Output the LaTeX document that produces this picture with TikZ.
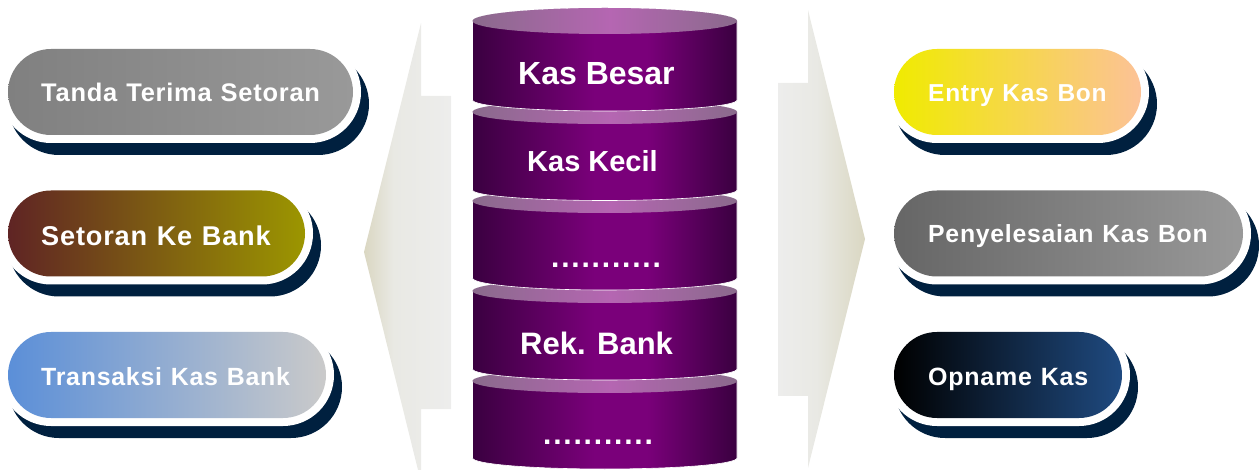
\documentclass[tikz,border=0pt]{standalone}
\usepackage{fontspec}
\setmainfont{Liberation Sans}
\newfontfamily\spaced[LetterSpace=3,WordSpace=1.15]{Liberation Sans}
\newfontfamily\dotted[LetterSpace=6]{Liberation Sans}
\definecolor{sideE}{HTML}{3A0040}
\definecolor{sideP}{HTML}{7A007A}
\definecolor{topE}{HTML}{8A6A8C}
\definecolor{topP}{HTML}{B566B2}
\definecolor{arA}{HTML}{DAD7C2}
\definecolor{arB}{HTML}{E9E9E4}
\definecolor{arC}{HTML}{EDEDEC}
\definecolor{navy}{HTML}{00203F}
\definecolor{grayA}{HTML}{808080}
\definecolor{grayB}{HTML}{999999}
\definecolor{brownA}{HTML}{5F2424}
\definecolor{oliveB}{HTML}{9C9600}
\definecolor{blueA}{HTML}{5B8FD8}
\definecolor{silverB}{HTML}{CACACA}
\definecolor{yellowA}{HTML}{F0EB00}
\definecolor{peachB}{HTML}{FCC297}
\definecolor{darkA}{HTML}{666666}
\definecolor{blackA}{HTML}{000000}
\definecolor{blueB}{HTML}{1F4A80}
\pgfdeclarehorizontalshading{cylside}{100bp}{color(0bp)=(sideE); color(25bp)=(sideE); color(48bp)=(sideP); color(58bp)=(sideP); color(75bp)=(sideE); color(100bp)=(sideE)}
\pgfdeclarehorizontalshading{cyltop}{100bp}{color(0bp)=(topE); color(25bp)=(topE); color(51bp)=(topP); color(75bp)=(topE); color(100bp)=(topE)}
\pgfdeclarehorizontalshading{arrowL}{100bp}{color(0bp)=(arA); color(25bp)=(arA); color(42bp)=(arB); color(75bp)=(arC); color(100bp)=(arC)}
\pgfdeclarehorizontalshading{arrowR}{100bp}{color(0bp)=(arC); color(25bp)=(arC); color(47bp)=(arB); color(75bp)=(arA); color(100bp)=(arA)}
\newcommand{\pillfont}[1]{\spaced\bfseries\fontsize{#1}{30}\selectfont}
\newcommand{\cylfont}[1]{\bfseries\fontsize{#1}{34}\selectfont}
\tikzset{
  x=1pt,y=-1pt,
  pilltext/.style={anchor=base west,inner sep=0pt,text=white,font=\pillfont{25}},
  cyltext/.style={anchor=base west,inner sep=0pt,text=white,font=\cylfont{31.5}},
  dottext/.style={anchor=base west,inner sep=0pt,text=white,font=\dotted\cylfont{30}},
}
% #1 x0, #2 x1, #3 top y, #4 left colour, #5 right colour
\newcommand{\pillshape}[5]{%
  \fill[navy,rounded corners=51pt] (#1,#3+4) rectangle (#2+16,#3+106);
  \fill[white,rounded corners=51pt] (#1-8,#3-8) rectangle (#2+8,#3+94);
  \shade[left color=#4,right color=#5,rounded corners=43pt] (#1,#3) rectangle (#2,#3+86);
}
% #1 top-rim y, #2 top radius, #3 bottom-rim y, #4 bottom radius
\newcommand{\disc}[4]{%
  \path[shading=cylside,draw=white,line width=0.6pt] (472.5,#1) -- (472.5,#3)
     arc[start angle=180,end angle=0,x radius=132.25,y radius=#4]
     -- (737,#1) arc[start angle=0,end angle=-180,x radius=132.25,y radius=#2] -- cycle;
  \path[shading=cyltop] (472.5,#1) arc[start angle=180,end angle=540,x radius=132.25,y radius=#2] -- cycle;
}
\begin{document}
\begin{tikzpicture}
\useasboundingbox (0,0) rectangle (1259,470);
% arrows
\shade[shading=arrowL] (364,252) -- (421,23) -- (421,96) -- (451,96) -- (451,409) -- (421,409) -- (421,470) -- (418,470) -- cycle;
\shade[shading=arrowR] (865,239) -- (808,10) -- (808,83) -- (778,83) -- (778,396) -- (808,396) -- (808,468) -- cycle;
% cylinder
\disc{381}{12}{458}{11}
\disc{291}{12}{369}{11}
\disc{201}{12}{278}{12}
\disc{112}{12}{190}{10.5}
\disc{21}{13}{100}{11}
\node[cyltext,font=\cylfont{32}] (besar) at (518,85) {Kas Besar};
\node[cyltext,font=\cylfont{29}] (kecil) at (527,172) {Kas Kecil};
\node[dottext] (dotsa) at (551,267.5) {...........};
\node[cyltext,font=\cylfont{31}] (rek) at (520,355) {Rek. Bank};
\node[dottext] (dotsb) at (543,444) {...........};
% pills
\pillshape{8}{353}{49}{grayA}{grayB}
\pillshape{8}{305}{190.5}{brownA}{oliveB}
\pillshape{8}{326}{332}{blueA}{silverB}
\pillshape{894}{1141}{49}{yellowA}{peachB}
\pillshape{894}{1243}{190.5}{darkA}{grayB}
\pillshape{894}{1122}{332}{blackA}{blueB}
\node[pilltext,font=\pillfont{25.45}] (tanda) at (41,102) {Tanda Terima Setoran};
\node[pilltext,font=\pillfont{27.15}] (setoran) at (41,246) {Setoran Ke Bank};
\node[pilltext,font=\pillfont{24.9}] (transaksi) at (41,385) {Transaksi Kas Bank};
\node[pilltext,font=\pillfont{24.5}] (entry) at (928,102) {Entry Kas Bon};
\node[pilltext,font=\pillfont{24.8}] (penyelesaian) at (928,243) {Penyelesaian Kas Bon};
\node[pilltext] (opname) at (928,385) {Opname Kas};
\end{tikzpicture}
\end{document}
